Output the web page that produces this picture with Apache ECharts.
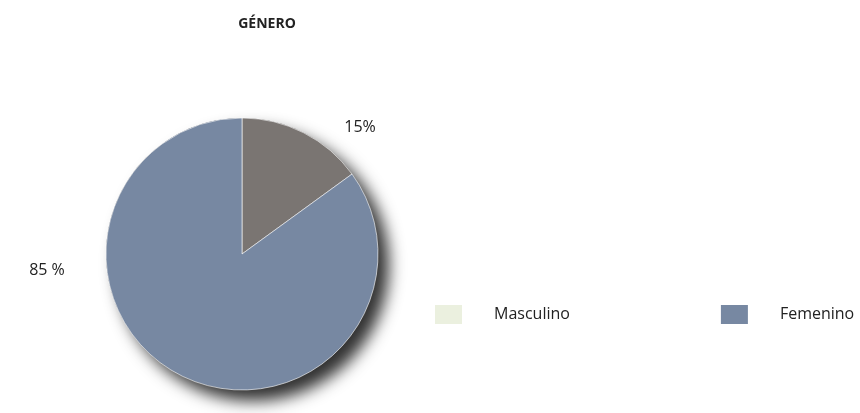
<!DOCTYPE html>
<html><head><meta charset="utf-8">
<script src="https://cdn.jsdelivr.net/npm/echarts@6/dist/echarts.min.js"></script>
<style>html,body{margin:0;padding:0;background:#fff}#c{width:860px;height:413px}</style>
</head><body><div id="c"></div>
<script>
const categories = ['Masculino', 'Femenino'];
const values = [15, 85];
const valueLabels = ['15%', '85 %'];
const sliceColors = ['#7a7572', '#7788a2'];
const legendColors = ['#ebf0df', '#7788a2'];
const labelPos = [[360, 127], [47, 270]];

const font = "'Open Sans', 'Noto Sans', sans-serif";
const center = [242, 254];
const radius = 136;
const chart = echarts.init(document.getElementById('c'));
chart.setOption({
  animation: false,
  title: {
    text: 'GÉNERO', left: 262, top: 12, textAlign: 'center',
    textStyle: {fontFamily: font, fontSize: 14, fontWeight: 'bold', color: '#222'}
  },
  legend: {
    left: 428, top: 298, width: 500, itemWidth: 29, itemHeight: 21, itemGap: 149,
    icon: 'rect',
    textStyle: {fontFamily: font, fontSize: 16, color: '#222', padding: [0, 0, 0, 26]},
    data: categories.map((n, i) => ({name: n, itemStyle: {color: legendColors[i]}}))
  },
  series: [{
    type: 'pie', silent: true,
    center: center, radius: radius,
    data: [{name: '_shadow', value: values.reduce((a, b) => a + b, 0)}],
    itemStyle: {
      color: '#555', borderWidth: 0,
      shadowBlur: 16, shadowOffsetX: 11, shadowOffsetY: 11, shadowColor: 'rgba(50,50,50,1)'
    },
    label: {show: false}, labelLine: {show: false},
    emphasis: {disabled: true}, legendHoverLink: false
  }, {
    type: 'pie',
    center: center, radius: radius,
    startAngle: 90, clockwise: true,
    data: categories.map((n, i) => ({name: n, value: values[i], itemStyle: {color: sliceColors[i]}})),
    itemStyle: {borderColor: '#fff', borderWidth: 0.6},
    label: {
      show: true,
      formatter: p => valueLabels[p.dataIndex],
      fontFamily: font, fontSize: 16, color: '#222'
    },
    labelLine: {show: false},
    labelLayout: p => ({x: labelPos[p.dataIndex][0], y: labelPos[p.dataIndex][1], align: 'center', verticalAlign: 'middle'}),
    emphasis: {disabled: true}
  }]
});
</script></body></html>
